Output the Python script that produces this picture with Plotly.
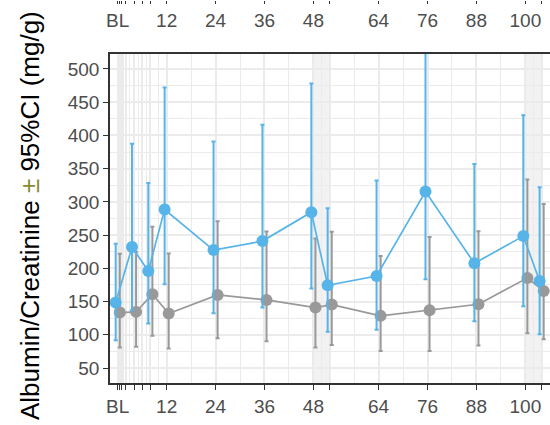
import plotly.graph_objects as go

# ---- data ----
weeks = [0, 4, 8, 12, 24, 36, 48, 52, 64, 76, 88, 100, 104]

blue_mean = [148.5, 232, 196, 288.5, 227.5, 241, 284.5, 174.5, 188.5, 315.5, 207.5, 248.5, 181]
blue_lo = [92, 137, 117, 176, 132.5, 141, 169.5, 104.5, 107.5, 183.5, 120.5, 143, 101]
blue_hi = [237, 387.5, 328.5, 472, 391, 416, 478, 290.5, 332, 600, 357, 430.5, 322]

gray_mean = [133.5, 134.5, 161, 132, 160, 152.5, 141, 145.5, 128.5, 137, 146, 185.5, 166]
gray_lo = [81, 82, 98.5, 79.5, 95, 90.5, 81, 84.5, 75.5, 75.5, 84, 102.5, 93.5]
gray_hi = [222, 225, 262.5, 222.5, 271, 255.5, 245, 255, 218.5, 247, 256, 333.5, 297]

tick_vals = [0, 0.5, 1, 2, 4, 6, 8, 12, 24, 36, 48, 52, 64, 76, 88, 100, 104]
tick_text = ["BL", "", "", "", "", "", "", "12", "24", "36", "48", "", "64", "76", "88", "100", ""]
y_ticks = [50, 100, 150, 200, 250, 300, 350, 400, 450, 500]
shaded_windows = [(48, 52), (100, 104)]

BLUE = "#56B4E9"
GRAY = "#999999"
DODGE = 0.5
X_RANGE = [-1.9, 106.05]
Y_RANGE = [27.5, 522.5]

minor_x = [(a + b) / 2 for a, b in zip(tick_vals[:-1], tick_vals[1:])]
minor_y = [(a + b) / 2 for a, b in zip(y_ticks[:-1], y_ticks[1:])]


def err(mean, lo, hi, color):
    return dict(type="data", symmetric=False,
                array=[h - m for h, m in zip(hi, mean)],
                arrayminus=[m - l for m, l in zip(mean, lo)],
                color=color, thickness=2, width=2)


fig = go.Figure()
fig.add_trace(go.Scatter(
    x=[w + DODGE for w in weeks], y=gray_mean, mode="lines+markers",
    line=dict(color=GRAY, width=1.7), marker=dict(size=12, color=GRAY),
    error_y=err(gray_mean, gray_lo, gray_hi, GRAY), showlegend=False))
fig.add_trace(go.Scatter(
    x=[w - DODGE for w in weeks], y=blue_mean, mode="lines+markers",
    line=dict(color=BLUE, width=1.7), marker=dict(size=12, color=BLUE),
    error_y=err(blue_mean, blue_lo, blue_hi, BLUE), showlegend=False))
# invisible trace to carry the axis of the panel above
fig.add_trace(go.Scatter(x=weeks, y=[None] * len(weeks), xaxis="x2",
                         showlegend=False, hoverinfo="skip"))

for a, b in shaded_windows:
    fig.add_shape(type="rect", xref="x", yref="y", x0=a, x1=b,
                  y0=Y_RANGE[0], y1=Y_RANGE[1], fillcolor="#f2f2f2",
                  line=dict(width=0), layer="below")

tickfont = dict(family="Liberation Sans, Arial", size=19, color="#4D4D4D")
axis_x = dict(range=X_RANGE, tickmode="array", tickvals=tick_vals, ticktext=tick_text,
              ticks="outside", tickwidth=1.3, tickcolor="#333333",
              tickfont=tickfont, zeroline=False)

fig.update_layout(
    width=550, height=425,
    margin=dict(l=110, r=0, t=0, b=42),
    paper_bgcolor="white", plot_bgcolor="white",
    xaxis=dict(**axis_x, ticklen=5, showgrid=True, gridcolor="#EBEBEB", gridwidth=1.8,
               showline=True, linecolor="#333333", linewidth=1.6, mirror=True,
               minor=dict(tickvals=minor_x, showgrid=True, gridcolor="#EBEBEB",
                          gridwidth=0.9, ticks="")),
    xaxis2=dict(**axis_x, ticklen=3, overlaying="x", anchor="free", position=1,
                side="bottom", showgrid=False, showline=False),
    yaxis=dict(domain=[0, 329 / 383], range=Y_RANGE, tickmode="array", tickvals=y_ticks,
               ticks="outside", ticklen=5, tickwidth=1.3, tickcolor="#333333",
               tickfont=tickfont, zeroline=False,
               showgrid=True, gridcolor="#EBEBEB", gridwidth=1.8,
               showline=True, linecolor="#333333", linewidth=1.6,
               minor=dict(tickvals=minor_y, showgrid=True, gridcolor="#EBEBEB",
                          gridwidth=0.9, ticks="")),
)

fig.add_annotation(
    text='Albumin/Creatinine <span style="color:#8a8a30">±</span> 95%CI (mg/g)',
    xref="paper", yref="paper", x=(30 - 110) / 440, y=(383 - 216) / 383,
    xanchor="center", yanchor="middle", textangle=-90, showarrow=False,
    font=dict(family="Liberation Sans, Arial", size=26, color="black"))

fig.write_html("out.html")
